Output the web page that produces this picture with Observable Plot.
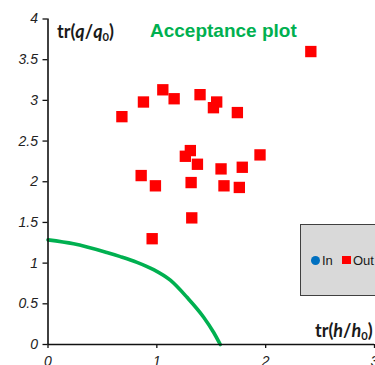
<!DOCTYPE html>
<html><head><meta charset="utf-8">
<script src="https://cdn.jsdelivr.net/npm/d3@7"></script>
<script src="https://cdn.jsdelivr.net/npm/@observablehq/plot@0.6"></script>
<style>
html,body{margin:0;padding:0;background:#fff;}
#wrap{position:relative;width:375px;height:365px;overflow:hidden;font-family:"Liberation Sans",Arial,sans-serif;}
#wrap svg{position:absolute;left:0;top:0;}
.ov{position:absolute;white-space:nowrap;line-height:1;}
.title{left:150px;top:20.5px;font-size:19px;font-weight:bold;color:#00b050;}
.axlab{font-family:Lato,"Liberation Sans",sans-serif;font-weight:bold;font-size:18px;color:#1a1a1a;}
.axlab sub{font-size:0.62em;vertical-align:-0.25em;line-height:0;}
#legend{position:absolute;left:300px;top:223.5px;width:110px;height:70px;background:#d9d9d9;border:1.5px solid #404040;}
.lg{position:absolute;font-size:13px;line-height:1;color:#1a1a1a;}
</style></head><body>
<div id="wrap"></div>
<script>
// "Out" series (red squares)
const outX = [2.415, 0.679, 0.877, 1.055, 1.159, 1.397, 1.55, 1.52, 1.74,
              1.308, 1.262, 1.373, 1.59, 1.785, 1.948, 0.856, 0.987, 1.315, 1.617, 1.758, 1.321, 0.957];
const outY = [3.60, 2.80, 2.98, 3.13, 3.02, 3.07, 2.98, 2.91, 2.85,
              2.383, 2.313, 2.215, 2.158, 2.178, 2.33, 2.076, 1.95, 1.99, 1.95, 1.93, 1.556, 1.30];
// "In" series (blue circles) – none visible
const inX = [];
const inY = [];
// acceptance boundary (green curve)
const curveX = [0, 0.235, 0.541, 0.665, 0.818, 0.97, 1.124, 1.277, 1.43, 1.521, 1.583];
const curveY = [1.286, 1.237, 1.13, 1.08, 1.01, 0.92, 0.79, 0.58, 0.335, 0.151, 0.0];
const xTicks = [0, 1, 2, 3];
const yTicks = [0, 0.5, 1, 1.5, 2, 2.5, 3, 3.5, 4];

const outData = outX.map((x, i) => ({x, y: outY[i]}));
const inData = inX.map((x, i) => ({x, y: inY[i]}));
const curveData = curveX.map((x, i) => ({x, y: curveY[i]}));

const chart = Plot.plot({
  width: 375, height: 365,
  marginLeft: 47.5, marginRight: 1, marginTop: 18.5, marginBottom: 21,
  style: {fontFamily: '"Liberation Sans", Arial, sans-serif', fontSize: "14px", background: "transparent", color: "#222"},
  x: {domain: [0, 3]},
  y: {domain: [0, 4]},
  marks: [
    Plot.line(curveData, {x: "x", y: "y", stroke: "#00b050", strokeWidth: 3.6, curve: "monotone-x"}),
    Plot.dot(inData, {x: "x", y: "y", r: 4.5, fill: "#0070c0", symbol: "circle"}),
    Plot.dot(outData, {x: "x", y: "y", r: 6.4, fill: "#ff0000", symbol: "square"}),
    Plot.ruleX([0], {y1: 0, y2: 4, stroke: "#111", strokeWidth: 1.6}),
    Plot.ruleY([0], {stroke: "#111", strokeWidth: 1.6}),
    Plot.axisY({ticks: yTicks, tickSize: 5, tickPadding: 5, tickFormat: d => String(d), fontStyle: "italic", label: null, stroke: "#111", strokeWidth: 1.3}),
    Plot.axisX({ticks: xTicks, tickSize: 4, tickPadding: 8, tickFormat: d => String(d), fontStyle: "italic", label: null, stroke: "#111", strokeWidth: 1.3})
  ]
});
const wrap = document.getElementById("wrap");
wrap.appendChild(chart);

const add = (html, cls, style) => {
  const d = document.createElement("div");
  d.className = "ov " + cls;
  d.innerHTML = html;
  if (style) d.setAttribute("style", style);
  wrap.appendChild(d);
  return d;
};
add("Acceptance plot", "title");
add("tr(<i>q</i>/<i>q</i><sub>0</sub>)", "axlab", "left:57px;top:22px;");
add("tr(<i>h</i>/<i>h</i><sub>0</sub>)", "axlab", "left:315px;top:321px;");

const lg = document.createElement("div");
lg.id = "legend";
lg.innerHTML =
  '<div style="position:absolute;left:10px;top:31px;width:9px;height:9px;border-radius:50%;background:#0070c0;"></div>' +
  '<div class="lg" style="left:21px;top:29px;">In</div>' +
  '<div style="position:absolute;left:41px;top:31px;width:8.5px;height:8.5px;background:#ff0000;"></div>' +
  '<div class="lg" style="left:52px;top:29px;">Out</div>';
wrap.appendChild(lg);
</script>
</body></html>
